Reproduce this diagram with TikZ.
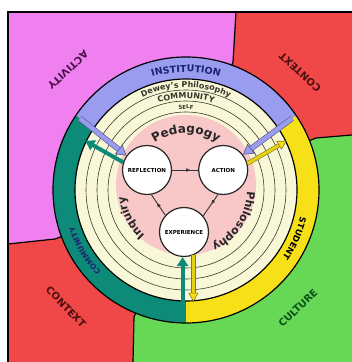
\documentclass[tikz,border=0pt]{standalone}
\usepackage{fontspec}
\setmainfont{DejaVu Sans}
\usetikzlibrary{positioning,arrows.meta,calc,decorations.text,decorations.markings}

\definecolor{quadpink}{HTML}{F080F0}
\definecolor{quadred}{HTML}{F04848}
\definecolor{quadgreen}{HTML}{66D855}
\definecolor{ringblue}{HTML}{9A9CF0}
\definecolor{ringteal}{HTML}{0E8A78}
\definecolor{ringyellow}{HTML}{F8E018}
\definecolor{paleyellow}{HTML}{F8F8D8}
\definecolor{pedpink}{HTML}{F8C8C8}
\definecolor{instblue}{HTML}{1A2470}
\definecolor{actpurple}{HTML}{4A1048}
\definecolor{ctxdark}{HTML}{4A0E0E}
\definecolor{culgreen}{HTML}{0A5218}

\begin{document}
\begin{tikzpicture}[
    x=1pt, y=1pt,
    font=\bfseries,
    stage/.style={
        circle,
        draw=black!85,
        line width=1.2pt,
        fill=white,
        minimum size=49pt,
        inner sep=0pt,
        font=\fontsize{5.5}{6}\selectfont\bfseries
    },
    outer/.style={font=\fontsize{10}{11}\selectfont\bfseries},
    border/.style={draw=black, line width=1.2pt},
    ringline/.style={draw=black!75!olive, line width=0.6pt},
    cyc/.style={
        line width=0.9pt, draw=black!80,
        postaction={decorate},
        decoration={markings, mark=at position #1 with {\arrow{Latex[length=4pt,width=4pt]}}}
    },
    blueflow/.style={line width=0.6pt, draw=ringblue!55!black, double=ringblue, double distance=4.4pt,
        -{Triangle[length=10pt, width=12pt, fill=ringblue]}},
    yellowflow/.style={line width=0.6pt, draw=ringyellow!55!black, double=ringyellow!85!olive, double distance=3pt,
        -{Triangle[length=9pt, width=10pt, fill=ringyellow]}},
    tealflow/.style={line width=4pt, draw=ringteal, -{Triangle[length=9pt, width=11pt]}}
]

\useasboundingbox (0,0) rectangle (352,362);
\fill[white] (0,0) rectangle (352,362);
\coordinate (c) at (186,172);

% ============================================================
% QUADRANTS
% ============================================================
\fill[quadgreen] (8,0) rectangle (352,350);
\fill[quadpink] (8,350) -- (236,350) -- (233,300) -- (c) -- (55,123) -- (8,118) -- cycle;
\fill[quadred] (236,350) -- (352,350) -- (352,227) -- (316,224) -- (c) -- (233,300) -- cycle;
\fill[quadred] (8,0) -- (8,118) -- (55,123) -- (c) -- (134,45) -- (133,0) -- cycle;

\draw[border] (236,350) -- (233,300) -- (c);
\draw[border] (352,227) -- (316,224) -- (c);
\draw[border] (8,118) -- (55,123) -- (c);
\draw[border] (133,0) -- (134,45) -- (c);
\draw[line width=1.6pt] (8,0) -- (8,350) -- (352,350);

% ============================================================
% RINGS
% ============================================================
\fill[ringblue] (c) -- ++(34:133) arc[start angle=34, end angle=146, radius=133] -- cycle;
\fill[ringteal] (c) -- ++(146:133) arc[start angle=146, end angle=270, radius=133] -- cycle;
\fill[ringyellow] (c) -- ++(270:133) arc[start angle=270, end angle=394, radius=133] -- cycle;
\draw[border] (c) circle[radius=133];
\filldraw[fill=paleyellow, border] (c) circle[radius=111];
\foreach \r in {100,89,78}
    \draw[ringline] (c) circle[radius=\r];
\fill[pedpink] ($(c)+(0,5)$) circle[radius=70];

% ============================================================
% TEXT ALONG THE RINGS
% ============================================================
\path[decorate, decoration={text along path, text align=center, text color=instblue,
    text={|\fontsize{9.5}{10}\selectfont\bfseries|INSTITUTION}}]
    ($(c)+(160:118)$) arc[start angle=160, end angle=20, radius=118];
\path[decorate, decoration={text along path, text align=center, text color=instblue,
    text={|\fontsize{7.5}{8}\selectfont\bfseries|COMMUNITY}}]
    ($(c)+(245:117.5)$) arc[start angle=245, end angle=177, radius=117.5];
\path[decorate, decoration={text along path, text align=center, text color=black,
    text={|\fontsize{8.5}{9}\selectfont\bfseries|STUDENT}}]
    ($(c)+(10:117.5)$) arc[start angle=10, end angle=-58, radius=117.5];

\path[decorate, decoration={text along path, text align=center, text color=black!80!olive,
    text={|\fontsize{8}{9}\selectfont\bfseries|Dewey's Philosophy}}]
    ($(c)+(150:102.5)$) arc[start angle=150, end angle=30, radius=102.5];
\path[decorate, decoration={text along path, text align=center, text color=black!80!olive,
    text={|\fontsize{8}{9}\selectfont\bfseries|COMMUNITY}}]
    ($(c)+(150:91.5)$) arc[start angle=150, end angle=30, radius=91.5];
\path[decorate, decoration={text along path, text align=center, text color=black!80!olive,
    text={|\fontsize{5.5}{6}\selectfont\bfseries|SELF}}]
    ($(c)+(150:81)$) arc[start angle=150, end angle=30, radius=81];

\path[decorate, decoration={text along path, text align=center, text color=black!85,
    text={|\fontsize{12}{13}\selectfont\bfseries|Pedagogy}}]
    ($(c)+(160:57)$) arc[start angle=160, end angle=20, radius=57];
\path[decorate, decoration={text along path, text align=center, text color=black!85,
    text={|\fontsize{11}{12}\selectfont\bfseries|Inquiry}}]
    ($(c)+(250:61)$) arc[start angle=250, end angle=164, radius=61];
\path[decorate, decoration={text along path, text align=center, text color=black!85,
    text={|\fontsize{11}{12}\selectfont\bfseries|Philosophy}}]
    ($(c)+(12:61)$) arc[start angle=12, end angle=-78, radius=61];

% ============================================================
% CYCLE
% ============================================================
\node[stage] (refl) at (147,192) {REFLECTION};
\node[stage, right=26pt of refl] (act) {ACTION};
\node[stage] (exp) at (184,130) {EXPERIENCE};

\draw[cyc=0.7] (refl) -- (act);
\draw[cyc=0.45] (act.-102) -- (exp.40);
\draw[cyc=0.6] (exp.138) -- (refl.-80);

% ============================================================
% FLOWS TO AND FROM THE RING
% ============================================================
\coordinate (bl) at ($(c)+(146:128)$);
\coordinate (br) at ($(c)+(34:128)$);
\coordinate (tl) at ($(c)+(154:112)$);
\coordinate (yr) at ($(c)+(26:112)$);
\coordinate (tb) at ($(c)+(268.5:130)$);
\coordinate (yb) at ($(c)+(273.5:112)$);

\draw[blueflow] (bl) -- (refl.145);
\draw[blueflow] (br) -- (act.38);
\draw[tealflow] (refl.162) -- (tl);
\draw[yellowflow] (act.15) -- (yr);
\draw[tealflow] (tb) -- (tb |- exp.south);
\draw[yellowflow] (exp.-68) -- (exp.-68 |- yb);

% ============================================================
% OUTER LABELS
% ============================================================
\node[outer, text=actpurple, rotate=-137] (activity) at (68,292) {ACTIVITY};
\node[outer, text=ctxdark, rotate=137.5] (ctxtop) at (300,290) {CONTEXT};
\node[outer, text=ctxdark, rotate=-46] (ctxbot) at (66,55) {CONTEXT};
\node[outer, text=culgreen, rotate=44] (culture) at (298,54) {CULTURE};

\end{tikzpicture}
\end{document}
